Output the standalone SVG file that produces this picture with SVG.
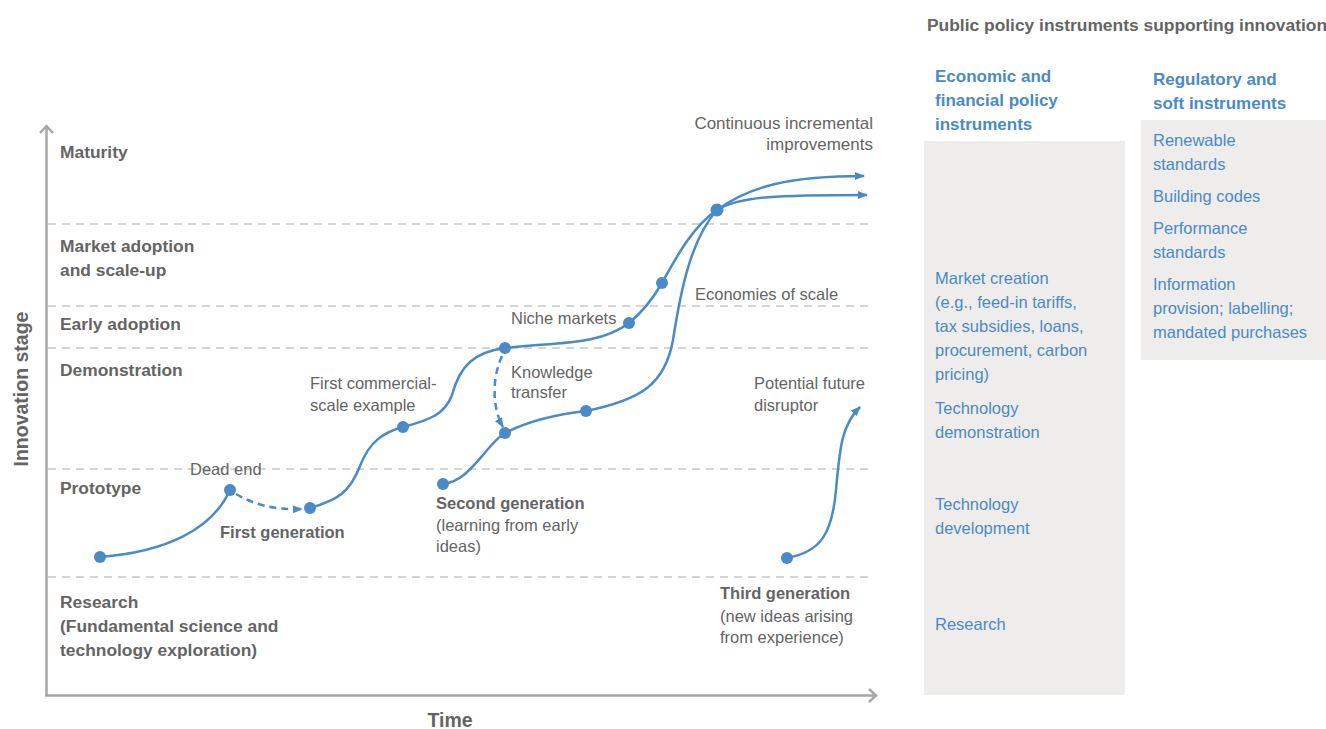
<svg xmlns="http://www.w3.org/2000/svg" width="1326" height="729" viewBox="0 0 1326 729">
<style>
.lbl{font-family:"Liberation Sans",Arial,sans-serif;fill:#646464;font-size:16.5px}
.b{font-weight:bold}
.stage{font-family:"Liberation Sans",Arial,sans-serif;fill:#646464;font-size:17.4px;font-weight:bold}
.ax{font-family:"Liberation Sans",Arial,sans-serif;fill:#646464;font-size:19.5px;font-weight:bold}
.blue{font-family:"Liberation Sans",Arial,sans-serif;fill:#4a8ac6;font-size:16.5px}
.bh{font-family:"Liberation Sans",Arial,sans-serif;fill:#4a8ac6;font-size:17px;font-weight:bold}
.grid{stroke:#c8c8c8;stroke-width:1.5;stroke-dasharray:8 6;fill:none}
.axis{stroke:#a6a6a6;stroke-width:2.5;fill:none}
.curve{stroke:#4a8ac6;stroke-width:2.5;fill:none}
.dash{stroke:#4a8ac6;stroke-width:2.5;fill:none;stroke-dasharray:7 5}
.dot{fill:#4a8ac6}
.box{fill:#efedec}
</style>
<defs>
<marker id="ah" viewBox="0 0 10 10" refX="9" refY="5" markerWidth="10" markerHeight="10" markerUnits="userSpaceOnUse" orient="auto">
<path d="M0,1 L10,5 L0,9 Z" fill="#4a8ac6"/>
</marker>
</defs>

<g id="axes">
<line class="axis" x1="46.5" y1="126" x2="46.5" y2="696"/>
<line class="axis" x1="45" y1="695.5" x2="875" y2="695.5"/>
<polyline class="axis" points="40,133 46.5,126 53,133"/>
<polyline class="axis" points="869,689 876,695.5 869,702"/>
<text class="ax" transform="translate(28,389) rotate(-90)" text-anchor="middle">Innovation stage</text>
<text class="ax" x="450" y="727" text-anchor="middle">Time</text>
</g>

<g id="gridlines">
<line class="grid" x1="48" y1="224" x2="873" y2="224"/>
<line class="grid" x1="48" y1="306" x2="873" y2="306"/>
<line class="grid" x1="48" y1="348" x2="873" y2="348"/>
<line class="grid" x1="48" y1="469" x2="873" y2="469"/>
<line class="grid" x1="48" y1="577" x2="873" y2="577"/>
</g>

<g id="stages">
<text class="stage" x="60" y="158">Maturity</text>
<text class="stage" x="60" y="252">Market adoption</text>
<text class="stage" x="60" y="276">and scale-up</text>
<text class="stage" x="60" y="330">Early adoption</text>
<text class="stage" x="60" y="376">Demonstration</text>
<text class="stage" x="60" y="494">Prototype</text>
<text class="stage" x="60" y="608">Research</text>
<text class="stage" x="60" y="632">(Fundamental science and</text>
<text class="stage" x="60" y="656">technology exploration)</text>
</g>

<g id="connectors">
<path class="curve" d="M100,557 C165,552 212,530 230,490"/>
<path class="dash" d="M236,494 C255,505 275,510 302,509" marker-end="url(#ah)"/>
<path class="curve" d="M310,508 C338,500 350,492 360,466 C370,440 385,432 403,427"/>
<path class="curve" d="M403,427 C430,420 445,414 452,395 C460,365 475,352 505,348"/>
<path class="curve" d="M505,348 C560,342 600,345 629,323 C645,310 655,295 662,283 C680,250 695,225 717,210 C750,186 790,176 864,176" marker-end="url(#ah)"/>
<path class="dash" d="M502,356 C491,380 493,410 503,427" marker-end="url(#ah)"/>
<path class="curve" d="M443,484 C460,482 470,470 483,455 C492,444 498,437 505,433 C530,420 560,414 586,411 C640,400 665,385 673,340 C680,295 690,240 717,210 C740,196 780,195 867,195" marker-end="url(#ah)"/>
<path class="curve" d="M787,558 C820,552 832,535 836,490 C840,445 842,425 860,407" marker-end="url(#ah)"/>
</g>

<g id="dots">
<circle class="dot" cx="100" cy="557" r="6"/>
<circle class="dot" cx="230" cy="490" r="6"/>
<circle class="dot" cx="310" cy="508" r="6"/>
<circle class="dot" cx="403" cy="427" r="6"/>
<circle class="dot" cx="505" cy="348" r="6"/>
<circle class="dot" cx="629" cy="323" r="6"/>
<circle class="dot" cx="662" cy="283" r="6"/>
<circle class="dot" cx="717" cy="210" r="6.5"/>
<circle class="dot" cx="443" cy="484" r="6"/>
<circle class="dot" cx="505" cy="433" r="6"/>
<circle class="dot" cx="586" cy="411" r="6"/>
<circle class="dot" cx="787" cy="558" r="6"/>
</g>

<g id="annotations">
<text class="lbl" x="190" y="475">Dead end</text>
<text class="lbl b" x="220" y="538">First generation</text>
<text class="lbl" x="310" y="389">First commercial-</text>
<text class="lbl" x="310" y="411">scale example</text>
<text class="lbl b" x="436" y="509">Second generation</text>
<text class="lbl" x="436" y="531">(learning from early</text>
<text class="lbl" x="436" y="552">ideas)</text>
<text class="lbl" x="511" y="378">Knowledge</text>
<text class="lbl" x="511" y="398">transfer</text>
<text class="lbl" x="511" y="324">Niche markets</text>
<text class="lbl" x="695" y="300">Economies of scale</text>
<text class="lbl" x="873" y="129" text-anchor="end" style="font-size:17px">Continuous incremental</text>
<text class="lbl" x="873" y="150" text-anchor="end" style="font-size:17px">improvements</text>
<text class="lbl" x="754" y="389">Potential future</text>
<text class="lbl" x="754" y="411">disruptor</text>
<text class="lbl b" x="720" y="599">Third generation</text>
<text class="lbl" x="720" y="622">(new ideas arising</text>
<text class="lbl" x="720" y="643">from experience)</text>
</g>

<g id="policy-panel">
<text class="stage" x="927" y="31" style="font-size:17.4px">Public policy instruments supporting innovation</text>
</g>

<g id="economic-instruments">
<rect class="box" x="924" y="141" width="201" height="554"/>
<text class="bh" x="935" y="82">Economic and</text>
<text class="bh" x="935" y="106">financial policy</text>
<text class="bh" x="935" y="130">instruments</text>
<text class="blue" x="935" y="284">Market creation</text>
<text class="blue" x="935" y="308">(e.g., feed-in tariffs,</text>
<text class="blue" x="935" y="332">tax subsidies, loans,</text>
<text class="blue" x="935" y="356">procurement, carbon</text>
<text class="blue" x="935" y="380">pricing)</text>
<text class="blue" x="935" y="414">Technology</text>
<text class="blue" x="935" y="438">demonstration</text>
<text class="blue" x="935" y="510">Technology</text>
<text class="blue" x="935" y="534">development</text>
<text class="blue" x="935" y="630">Research</text>
</g>

<g id="regulatory-instruments">
<rect class="box" x="1141" y="120" width="185" height="240"/>
<text class="bh" x="1153" y="85">Regulatory and</text>
<text class="bh" x="1153" y="109">soft instruments</text>
<text class="blue" x="1153" y="146">Renewable</text>
<text class="blue" x="1153" y="170">standards</text>
<text class="blue" x="1153" y="202">Building codes</text>
<text class="blue" x="1153" y="234">Performance</text>
<text class="blue" x="1153" y="258">standards</text>
<text class="blue" x="1153" y="290">Information</text>
<text class="blue" x="1153" y="314">provision; labelling;</text>
<text class="blue" x="1153" y="338">mandated purchases</text>
</g>
</svg>
